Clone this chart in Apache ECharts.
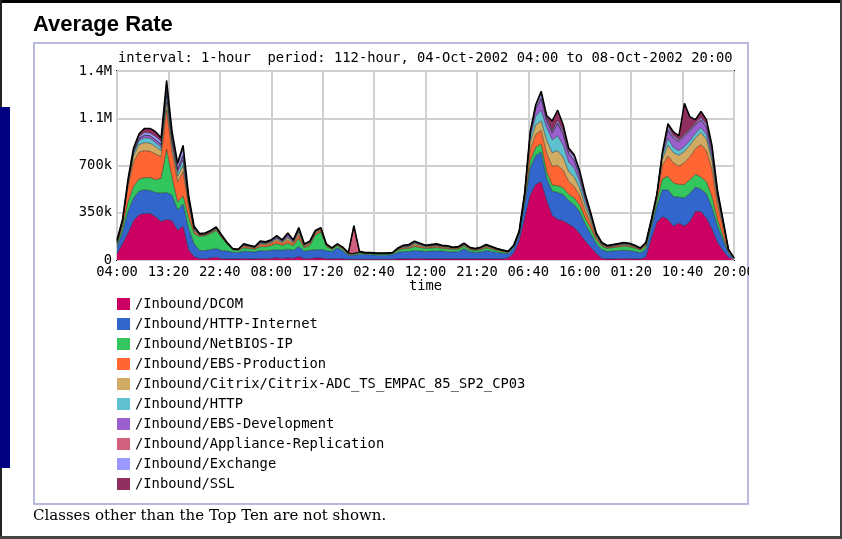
<!DOCTYPE html>
<html>
<head>
<meta charset="utf-8">
<title>Average Rate</title>
<script src="https://cdn.jsdelivr.net/npm/echarts@6/dist/echarts.min.js"></script>
<style>
	html, body { margin: 0; padding: 0; background: #fff; }
	#avgRate { width: 842px; height: 539px; }
</style>
</head>
<body>
<div id="avgRate"></div>
<script>
// one point per hour, 04-Oct-2002 04:00 .. 08-Oct-2002 20:00, values in k
const startMinutes = 4 * 60;
const yTicks = {0: '0', 350: '350k', 700: '700k', 1050: '1.1M', 1400: '1.4M'};

const classNames = [
	'/Inbound/DCOM',
	'/Inbound/HTTP-Internet',
	'/Inbound/NetBIOS-IP',
	'/Inbound/EBS-Production',
	'/Inbound/Citrix/Citrix-ADC_TS_EMPAC_85_SP2_CP03',
	'/Inbound/HTTP',
	'/Inbound/EBS-Development',
	'/Inbound/Appliance-Replication',
	'/Inbound/Exchange',
	'/Inbound/SSL'
];
const classColors = ['#cc0063', '#3366cc', '#33c65f', '#ff6633', '#d1ab63',
	'#5fc1d0', '#9c5fcf', '#d0607e', '#9999ff', '#8f2f5f'];

const dcom = [45,120,200,290,335,345,345,320,285,300,290,220,250,75,25,
	10,10,15,20,10,8,8,8,
	10,8,8,10,10,12,15,12,15,12,25,
	10,12,15,15,10,8,10,8,5,5,5,
	5,5,5,5,5,5,
	8,8,8,10,10,8,8,8,8,8,
	8,8,8,8,8,8,8,8,8,8,15,50,
	140,310,480,560,580,440,330,300,290,265,240,195,140,95,50,
	12,8,8,10,10,10,8,8,20,
	160,280,320,300,250,275,250,285,360,360,310,230,130,70,20,4];
const httpInternet = [50,90,160,170,175,175,170,180,210,200,190,150,165,160,95,
	60,60,62,65,60,58,50,48,
	55,55,52,60,58,60,62,60,65,60,75,
	55,60,60,62,60,55,80,60,30,30,38,
	35,35,31,31,31,35,
	50,55,55,60,58,55,58,60,58,55,
	52,55,75,55,48,52,62,55,48,42,33,40,
	40,100,200,215,220,165,180,200,195,175,170,160,125,100,70,
	65,55,58,60,62,60,55,45,60,
	80,120,200,220,220,190,210,210,180,165,180,160,120,80,30,6];
const netbios = [20,35,70,85,90,90,95,95,110,320,130,60,60,80,75,
	105,110,120,135,95,50,18,15,
	25,22,20,30,30,35,45,35,45,35,60,
	25,35,110,130,30,15,15,12,8,8,10,
	8,8,8,8,8,8,
	15,20,22,30,25,22,22,24,20,20,
	18,18,20,15,14,16,20,16,14,12,8,8,
	12,30,55,60,60,50,45,50,50,45,50,50,45,40,30,
	25,22,25,27,30,28,25,20,25,
	25,40,80,100,100,95,100,100,95,90,90,80,50,30,10,2];
const ebsProduction = [10,25,110,180,200,200,195,190,160,290,190,150,180,80,15,
	5,5,6,8,6,4,3,3,
	12,10,8,15,14,15,20,15,20,15,25,
	10,12,12,12,8,5,6,6,3,3,3,
	2,2,2,2,2,2,
	5,8,8,10,10,8,8,8,8,7,
	6,6,7,6,5,6,8,7,5,4,3,4,
	8,25,80,95,100,135,140,150,130,95,85,70,50,35,15,
	8,7,7,8,8,8,7,6,9,
	15,25,100,150,150,135,160,170,190,240,230,200,110,60,10,1];
const citrix = [5,10,25,45,55,60,60,55,45,60,45,40,45,25,10,
	5,5,5,6,5,3,2,2,
	6,5,4,8,8,10,14,10,18,10,20,
	8,8,8,8,5,3,4,4,2,2,2,
	2,2,2,2,2,2,
	4,6,7,12,9,7,7,7,6,6,
	5,5,6,5,4,5,7,6,4,3,2,3,
	5,15,55,70,70,95,100,110,95,75,70,55,40,25,12,
	6,5,5,6,6,6,5,4,6,
	8,12,45,80,75,80,85,85,80,90,85,65,40,25,4,1];
const http = [5,5,10,20,30,35,35,30,25,50,30,30,40,20,10,
	3,3,4,4,3,2,1,1,
	3,3,2,4,4,5,6,5,8,5,10,
	4,5,5,5,3,2,2,2,1,1,1,
	1,1,1,1,1,1,
	2,3,3,5,4,3,3,3,3,3,
	2,3,3,2,2,3,3,3,2,2,1,2,
	4,10,40,65,80,95,95,110,90,70,65,50,35,20,8,
	4,3,3,3,4,4,3,2,4,
	5,6,25,50,40,35,35,35,35,35,35,30,20,10,2,0];
const ebsDevelopment = [5,5,5,10,15,20,20,20,20,30,20,20,30,10,5,
	3,3,3,3,3,2,1,1,
	4,3,3,6,5,6,10,6,18,6,12,
	4,4,4,4,2,1,1,1,1,1,1,
	1,1,1,1,1,1,
	3,5,6,6,4,3,4,5,3,3,
	2,2,3,2,2,2,3,2,2,2,1,1,
	3,5,25,55,85,50,50,90,80,60,55,40,25,15,7,
	4,3,4,4,5,4,3,2,3,
	3,4,15,60,65,65,75,70,60,55,50,40,25,12,2,0];
const applianceRepl = [0,0,0,0,0,0,0,0,0,10,5,5,5,0,0,
	0,0,0,0,0,0,0,0,
	0,0,0,0,0,0,0,0,0,0,0,
	0,0,0,0,0,0,0,0,3,203,3,
	0,0,0,0,0,0,
	0,0,0,0,0,0,0,0,0,0,
	0,0,0,0,0,0,0,0,0,0,0,0,
	0,0,2,3,5,5,5,5,5,5,5,5,5,2,0,
	0,0,0,0,0,0,0,0,0,
	0,0,3,5,5,5,5,5,5,5,5,5,2,1,0,0];
const exchange = [5,5,10,15,15,20,20,25,25,40,30,30,50,20,10,
	3,2,3,2,2,2,1,1,
	3,2,2,4,3,4,5,4,6,4,8,
	2,2,3,2,1,1,1,1,1,1,1,
	1,1,1,1,1,1,
	2,3,4,4,3,2,3,3,2,2,
	1,2,2,1,1,2,2,2,1,1,1,1,
	2,3,8,17,30,15,15,20,20,20,25,25,15,12,5,
	3,3,3,2,3,3,2,2,2,
	2,2,7,25,15,10,10,10,10,15,20,25,15,8,1,1];
const ssl = [5,5,10,15,20,30,35,35,25,30,20,15,25,10,5,
	2,2,2,2,1,1,1,1,
	2,2,1,3,3,3,3,3,5,3,5,
	2,2,3,2,1,0,1,1,1,1,1,
	0,0,0,0,0,0,
	1,2,2,3,2,2,2,2,2,1,
	1,1,1,1,1,1,2,1,1,1,1,1,
	1,2,5,10,20,20,70,75,45,20,15,10,10,6,3,
	3,2,2,2,2,2,2,1,1,
	2,1,5,20,30,30,230,90,25,45,35,15,8,4,1,0];

const classValues = [dcom, httpInternet, netbios, ebsProduction, citrix,
	http, ebsDevelopment, applianceRepl, exchange, ssl];

const mono = 'DejaVu Sans Mono';

const timeLabel = (v) => {
	let m = startMinutes + v;
	let hh = Math.floor(m / 60) % 24;
	let mm = m % 60;
	return (hh < 10 ? '0' : '') + hh + ':' + (mm < 10 ? '0' : '') + mm;
};

// hour slots for the stacking axis
let hours = dcom.map((v, i) => i);

let series = classNames.map((name, k) => ({
	name: name,
	type: 'line',
	stack: 'total',
	xAxisIndex: 0,
	showSymbol: false,
	animation: false,
	itemStyle: {color: classColors[k]},
	lineStyle: {
		color: '#000',
		width: k === classNames.length - 1 ? 1.5 : 0.7,
		opacity: k === classNames.length - 1 ? 1 : 0.6
	},
	areaStyle: {color: classColors[k], opacity: 1},
	data: classValues[k]
}));

let myChart = echarts.init(document.getElementById('avgRate'), null, {renderer: 'canvas'});
myChart.setOption({
	animation: false,
	backgroundColor: '#fff',
	grid: {
		left: 117,
		top: 71,
		right: 108,
		bottom: 279,
		show: true,
		backgroundColor: '#fff',
		borderColor: '#000',
		borderWidth: 2
	},
	xAxis: [
		{
			type: 'category',
			data: hours,
			boundaryGap: false,
			show: false
		},
		{
			// minutes from 04:00, ticks every 9h20m
			type: 'value',
			min: 0,
			max: 6720,
			interval: 560,
			position: 'bottom',
			name: 'time',
			nameLocation: 'middle',
			nameGap: 19,
			nameTextStyle: {fontFamily: mono, fontSize: 13.8, color: '#000'},
			axisLine: {show: false},
			axisTick: {show: false},
			splitLine: {lineStyle: {color: '#d0d0d0', width: 2}},
			axisLabel: {
				fontFamily: mono,
				fontSize: 13.8,
				color: '#000',
				margin: 5,
				showMinLabel: true,
				showMaxLabel: true,
				formatter: timeLabel
			}
		}
	],
	yAxis: {
		type: 'value',
		min: 0,
		max: 1400,
		interval: 350,
		axisLine: {show: false},
		axisTick: {show: false},
		splitLine: {lineStyle: {color: '#d0d0d0', width: 2}},
		axisLabel: {
			fontFamily: mono,
			fontSize: 13.8,
			color: '#000',
			margin: 5,
			formatter: (v) => yTicks[v]
		}
	},
	legend: {
		orient: 'vertical',
		left: 117,
		top: 297,
		padding: 0,
		icon: 'rect',
		itemWidth: 13,
		itemHeight: 12,
		itemGap: 6,
		itemStyle: {borderWidth: 0},
		textStyle: {fontFamily: mono, fontSize: 13.8, color: '#000', lineHeight: 14},
		selectedMode: false,
		data: classNames
	},
	graphic: [
		{type: 'rect', shape: {x: 0, y: 0, width: 842, height: 3}, style: {fill: '#000'}},
		{type: 'rect', shape: {x: 0, y: 0, width: 2, height: 539}, style: {fill: '#222'}},
		{type: 'rect', shape: {x: 840, y: 0, width: 2, height: 539}, style: {fill: '#444'}},
		{type: 'rect', shape: {x: 0, y: 536, width: 842, height: 3}, style: {fill: '#444'}},
		{type: 'rect', shape: {x: 0, y: 107, width: 10, height: 361}, style: {fill: '#000080'}},
		{type: 'rect', shape: {x: 34, y: 43, width: 714, height: 461},
			style: {fill: 'none', stroke: '#a3a3d6', lineWidth: 1.5}},
		{type: 'rect', z: 100, shape: {x: 749, y: 262, width: 40, height: 22}, style: {fill: '#fff'}},
		{type: 'text', left: 33, top: 14,
			style: {text: 'Average Rate', font: 'bold 22px "Liberation Sans"', fill: '#000'}},
		{type: 'text', left: 118, top: 51,
			style: {text: 'interval: 1-hour  period: 112-hour, 04-Oct-2002 04:00 to 08-Oct-2002 20:00',
				font: '13.8px "DejaVu Sans Mono"', fill: '#000'}},
		{type: 'text', left: 33, top: 509,
			style: {text: 'Classes other than the Top Ten are not shown.', font: '15px "DejaVu Serif"', fill: '#000'}}
	],
	series: series
});
</script>
</body>
</html>
